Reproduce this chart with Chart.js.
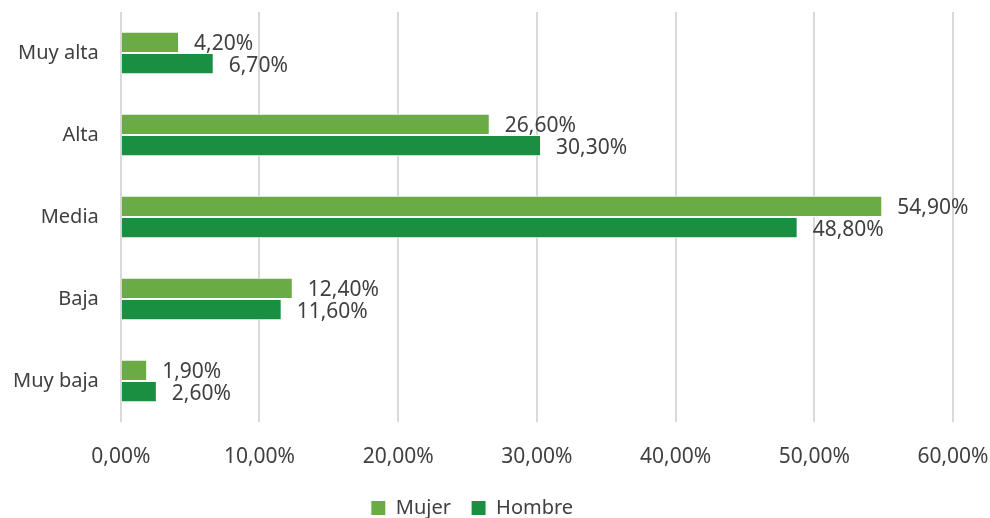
<!DOCTYPE html>
<html>
<head>
<meta charset="utf-8">
<script src="https://cdn.jsdelivr.net/npm/chart.js@4"></script>
<style>
  html, body { margin: 0; padding: 0; background: #fff; }
  #wrap { width: 990px; height: 518px; }
</style>
</head>
<body>
<div id="wrap"><canvas id="chart"></canvas></div>
<script>
// Categories and series
const categories = ['Muy alta', 'Alta', 'Media', 'Baja', 'Muy baja'];
const mujer = [4.2, 26.6, 54.9, 12.4, 1.9];
const hombre = [6.7, 30.3, 48.8, 11.6, 2.6];
const xTicks = [0, 10, 20, 30, 40, 50, 60];

const fmt = v => v.toFixed(2).replace('.', ',') + '%';
const FONT = "'Noto Sans', sans-serif";
const TEXT = '#404040';

// Draw value labels to the right of each bar
const valueLabels = {
  id: 'valueLabels',
  afterDatasetsDraw(chart) {
    const ctx = chart.ctx;
    ctx.save();
    ctx.font = '21px ' + FONT;
    ctx.fillStyle = TEXT;
    ctx.textBaseline = 'middle';
    ctx.textAlign = 'left';
    chart.data.datasets.forEach((ds, i) => {
      chart.getDatasetMeta(i).data.forEach((bar, j) => {
        ctx.fillText(fmt(ds.data[j]), bar.x + 15, bar.y + 2);
      });
    });
    ctx.restore();
  }
};

new Chart(document.getElementById('chart'), {
  type: 'bar',
  data: {
    labels: categories,
    datasets: [
      { label: 'Mujer', data: mujer, backgroundColor: '#6aab45', borderColor: '#ffffff', borderWidth: 1 },
      { label: 'Hombre', data: hombre, backgroundColor: '#1a8f42', borderColor: '#ffffff', borderWidth: 1 }
    ]
  },
  options: {
    indexAxis: 'y',
    responsive: true,
    maintainAspectRatio: false,
    animation: false,
    categoryPercentage: 0.52,
    barPercentage: 1,
    // padding tuned so the plot area sits where the reference has it
    layout: { autoPadding: false, padding: { top: 12, right: 37, left: -9, bottom: -10 } },
    plugins: {
      legend: {
        position: 'bottom',
        labels: {
          font: { family: FONT, size: 20 },
          color: TEXT,
          boxWidth: 15,
          boxHeight: 15,
          padding: 20
        }
      },
      tooltip: { enabled: false }
    },
    scales: {
      x: {
        min: 0,
        max: 60,
        afterBuildTicks: axis => { axis.ticks = xTicks.map(v => ({ value: v })); },
        afterFit: axis => { axis.height = 56; axis.paddingRight = 0; axis.paddingLeft = 0; },
        ticks: {
          callback: v => fmt(v),
          font: { family: FONT, size: 21 },
          color: TEXT,
          padding: 22
        },
        grid: { color: '#d9d9d9', lineWidth: 2, drawTicks: false },
        border: { display: false }
      },
      y: {
        afterFit: axis => { axis.paddingTop = 0; axis.paddingBottom = 0; },
        ticks: {
          font: { family: FONT, size: 20 },
          color: TEXT,
          padding: 22
        },
        grid: { display: false, drawTicks: false },
        border: { display: false }
      }
    }
  },
  plugins: [valueLabels]
});
</script>
</body>
</html>
